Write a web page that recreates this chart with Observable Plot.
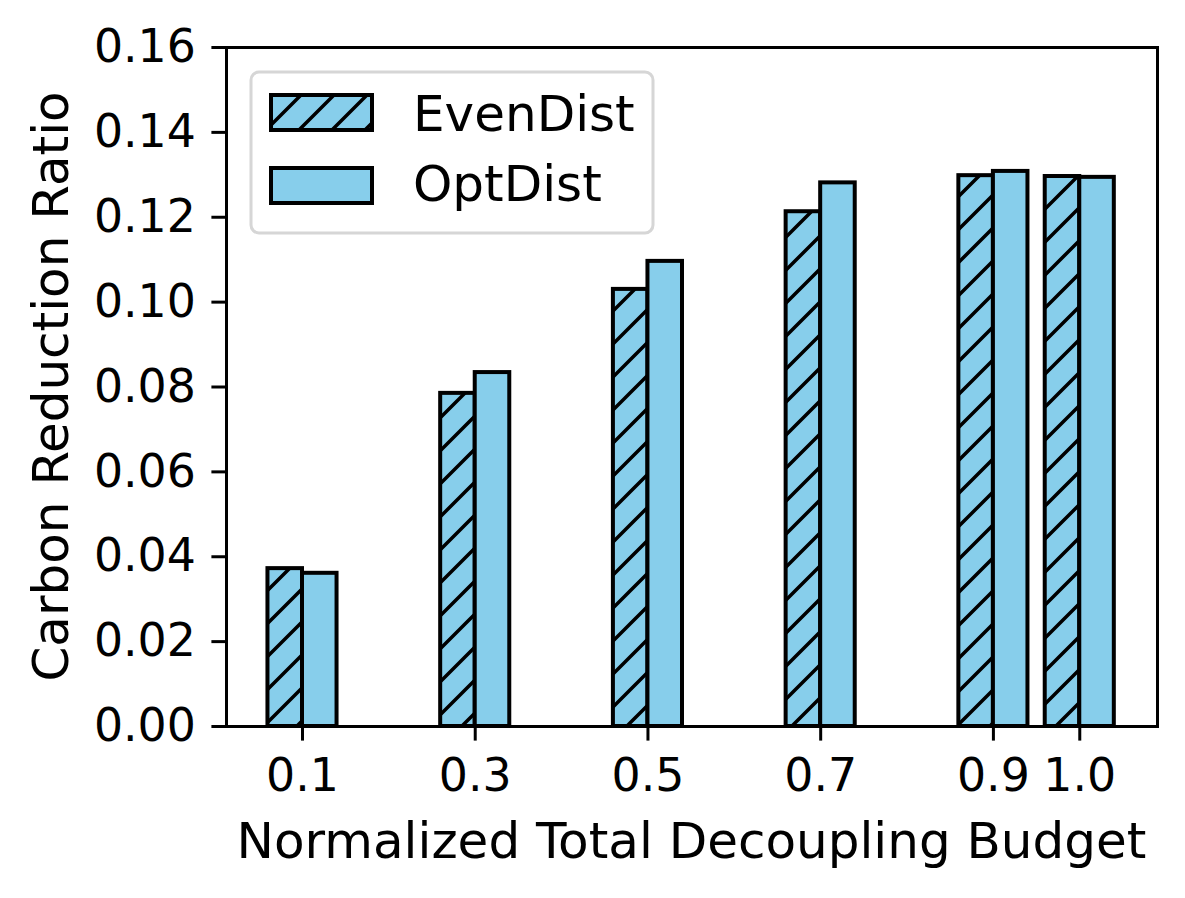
<!DOCTYPE html>
<html><head><meta charset="utf-8">
<script src="https://cdn.jsdelivr.net/npm/d3@7"></script>
<script src="https://cdn.jsdelivr.net/npm/@observablehq/plot@0.6"></script>
<style>body{margin:0;background:#fff;} svg{display:block;}</style>
</head><body><div id="chart"></div>
<script>
const budgets = [0.1, 0.3, 0.5, 0.7, 0.9, 1.0];
const evenDist = [0.0372, 0.0785, 0.1030, 0.1213, 0.1298, 0.1296];
const optDist = [0.0361, 0.0834, 0.1096, 0.1281, 0.1308, 0.1294];
const seriesNames = ["EvenDist", "OptDist"];
const yTicks = [0, 0.02, 0.04, 0.06, 0.08, 0.10, 0.12, 0.14, 0.16];

const barW = 0.04;
const rows = [];
budgets.forEach((b, i) => {
  rows.push({series: "EvenDist", x1: b - barW, x2: b, y: evenDist[i]});
  rows.push({series: "OptDist", x1: b, x2: b + barW, y: optDist[i]});
});

const W = 1185, H = 898;
const mL = 226, mR = 28, mT = 47, mB = 172;
const FT = 45.8;  // tick labels
const FL = 50;    // axis labels & legend

const plot = Plot.plot({
  width: W, height: H,
  marginLeft: mL, marginRight: mR, marginTop: mT, marginBottom: mB,
  style: {fontFamily: "DejaVu Sans", fontSize: FT + "px", color: "#000", background: "#fff"},
  x: {type: "linear", domain: [0.012, 1.09]},
  y: {domain: [0, 0.16]},
  marks: [
    Plot.rectY(rows.filter(d => d.series === "EvenDist"), {x1: "x1", x2: "x2", y: "y", fill: "url(#hatchEven)", stroke: "#000", strokeWidth: 4, insetLeft: 0, insetRight: 0}),
    Plot.rectY(rows.filter(d => d.series === "OptDist"), {x1: "x1", x2: "x2", y: "y", fill: "#87CEEB", stroke: "#000", strokeWidth: 4, insetLeft: 0, insetRight: 0}),
    Plot.frame({stroke: "#000", strokeWidth: 3}),
    Plot.axisX({ticks: budgets, tickFormat: d3.format(".1f"), tickSize: 14.6, tickPadding: 17, label: null, strokeWidth: 3, fontSize: FT}),
    Plot.axisY({ticks: yTicks, tickFormat: d3.format(".2f"), tickSize: 14.6, tickPadding: 16, label: null, strokeWidth: 3, fontSize: FT})
  ]
});

const svg = d3.select(plot);
const defs = svg.insert("defs", ":first-child");
const P = 33;
const pat = defs.append("pattern").attr("id", "hatchEven")
  .attr("patternUnits", "userSpaceOnUse").attr("width", P).attr("height", P);
pat.append("rect").attr("width", P).attr("height", P).attr("fill", "#87CEEB");
pat.append("path").attr("d", `M0,${P} L${P},0 M${-P/2},${P/2} L${P/2},${-P/2} M${P/2},${P*1.5} L${P*1.5},${P/2}`)
  .attr("stroke", "#000").attr("stroke-width", 3.5).attr("fill", "none");

// axis labels
svg.append("text").attr("x", (mL + (W - mR)) / 2).attr("y", 858)
  .attr("text-anchor", "middle").style("font-size", FL + "px").attr("fill", "#000")
  .text("Normalized Total Decoupling Budget");
svg.append("text").attr("transform", `translate(68,${(mT + (H - mB)) / 2}) rotate(-90)`)
  .attr("text-anchor", "middle").style("font-size", FL + "px").attr("fill", "#000")
  .text("Carbon Reduction Ratio");

// legend
const lg = svg.append("g");
lg.append("rect").attr("x", 251).attr("y", 72).attr("width", 402).attr("height", 161)
  .attr("rx", 8).attr("fill", "#fff").attr("fill-opacity", 0.8).attr("stroke", "#d6d6d6").attr("stroke-width", 3);
const fills = ["url(#hatchEven)", "#87CEEB"];
seriesNames.forEach((name, i) => {
  const yy = 95 + i * 73;
  lg.append("rect").attr("x", 271).attr("y", yy).attr("width", 101).attr("height", 35)
    .attr("fill", fills[i]).attr("stroke", "#000").attr("stroke-width", 4);
  lg.append("text").attr("x", 413).attr("y", 131 + i * 70).attr("text-anchor", "start")
    .style("font-size", FL + "px").attr("fill", "#000").text(name);
});

document.getElementById("chart").appendChild(plot);
</script></body></html>
